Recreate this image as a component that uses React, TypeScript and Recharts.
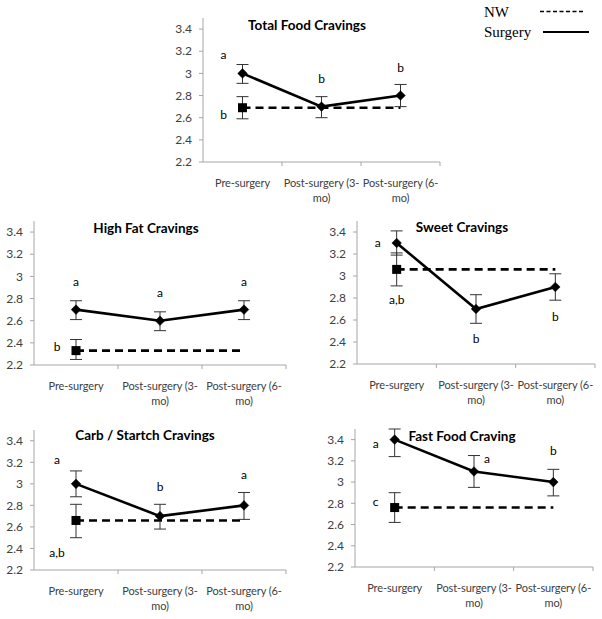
import React from 'react';
import { LineChart, Line, XAxis, YAxis, ErrorBar, ReferenceDot } from 'recharts';

// ---------- shared axis data ----------
const categories = ['Pre-surgery', 'Post-surgery (3-mo)', 'Post-surgery (6-mo)'];
const categoryLines = [['Pre-surgery'], ['Post-surgery (3-', 'mo)'], ['Post-surgery (6-', 'mo)']];
const yTicks = [2.2, 2.4, 2.6, 2.8, 3, 3.2, 3.4];
const yDomain: [number, number] = [2.2, 3.5];
const legendLabels = ['NW', 'Surgery'];

// ---------- Total Food Cravings ----------
const totalTitle = 'Total Food Cravings';
const totalSurgery = [3.0, 2.7, 2.8];
const totalSurgeryLow = [2.91, 2.6, 2.7];
const totalSurgeryHigh = [3.08, 2.79, 2.9];
const totalNW = 2.69;
const totalNWLow = 2.59;
const totalNWHigh = 2.79;
const totalLetters = [
  { cat: 0, y: 3.17, text: 'a', side: 'left' },
  { cat: 0, y: 2.63, text: 'b', side: 'left' },
  { cat: 1, y: 2.95, text: 'b', side: 'center' },
  { cat: 2, y: 3.05, text: 'b', side: 'center' },
];

// ---------- High Fat Cravings ----------
const fatTitle = 'High Fat Cravings';
const fatSurgery = [2.7, 2.6, 2.7];
const fatSurgeryLow = [2.61, 2.51, 2.61];
const fatSurgeryHigh = [2.78, 2.68, 2.78];
const fatNW = 2.33;
const fatNWLow = 2.25;
const fatNWHigh = 2.43;
const fatLetters = [
  { cat: 0, y: 2.95, text: 'a', side: 'center' },
  { cat: 1, y: 2.85, text: 'a', side: 'center' },
  { cat: 2, y: 2.95, text: 'a', side: 'center' },
  { cat: 0, y: 2.36, text: 'b', side: 'left' },
];

// ---------- Sweet Cravings ----------
const sweetTitle = 'Sweet Cravings';
const sweetSurgery = [3.3, 2.7, 2.9];
const sweetSurgeryLow = [3.19, 2.57, 2.78];
const sweetSurgeryHigh = [3.41, 2.83, 3.02];
const sweetNW = 3.06;
const sweetNWLow = 2.91;
const sweetNWHigh = 3.21;
const sweetLetters = [
  { cat: 0, y: 3.3, text: 'a', side: 'left' },
  { cat: 0, y: 2.78, text: 'a,b', side: 'center' },
  { cat: 1, y: 2.43, text: 'b', side: 'center' },
  { cat: 2, y: 2.63, text: 'b', side: 'center' },
];

// ---------- Carb / Startch Cravings ----------
const carbTitle = 'Carb / Startch Cravings';
const carbSurgery = [3.0, 2.7, 2.8];
const carbSurgeryLow = [2.88, 2.58, 2.67];
const carbSurgeryHigh = [3.12, 2.81, 2.92];
const carbNW = 2.66;
const carbNWLow = 2.5;
const carbNWHigh = 2.81;
const carbLetters = [
  { cat: 0, y: 3.22, text: 'a', side: 'left' },
  { cat: 0, y: 2.36, text: 'a,b', side: 'left' },
  { cat: 1, y: 2.97, text: 'b', side: 'center' },
  { cat: 2, y: 3.08, text: 'a', side: 'center' },
];

// ---------- Fast Food Craving ----------
const fastTitle = 'Fast Food Craving';
const fastSurgery = [3.4, 3.1, 3.0];
const fastSurgeryLow = [3.24, 2.95, 2.87];
const fastSurgeryHigh = [3.5, 3.25, 3.12];
const fastNW = 2.76;
const fastNWLow = 2.62;
const fastNWHigh = 2.9;
const fastLetters = [
  { cat: 0, y: 3.36, text: 'a', side: 'left' },
  { cat: 0, y: 2.81, text: 'c', side: 'left' },
  { cat: 1, y: 3.22, text: 'a', side: 'right' },
  { cat: 2, y: 3.29, text: 'b', side: 'center' },
];

const SANS = 'Lato, "Open Sans", sans-serif';
const AXIS_GRAY = '#a6a6a6';
const TEXT_GRAY = '#404040';

type Letter = { cat: number; y: number; text: string; side: string };
type Box = { left: number; top: number; width: number; height: number };
type Plot = { left: number; top: number; right: number; bottom: number };

const Diamond = (p: any) => {
  const { cx, cy } = p;
  if (cx == null || cy == null) return <g />;
  const r = 4.8;
  return (
    <polygon
      points={`${cx},${cy - r} ${cx + r},${cy} ${cx},${cy + r} ${cx - r},${cy}`}
      fill="#000"
      stroke="#000"
      strokeWidth={0.5}
    />
  );
};

const Square = (p: any) => {
  const { cx, cy, index } = p;
  if (cx == null || cy == null || index !== 0) return <g />;
  const s = 9;
  return <rect x={cx - s / 2} y={cy - s / 2} width={s} height={s} fill="#000" />;
};

function Panel(props: {
  surgery: number[];
  sLow: number[];
  sHigh: number[];
  nw: number;
  nwLow: number;
  nwHigh: number;
  letters: Letter[];
  box: Box;
  plot: Plot;
}) {
  const { surgery, sLow, sHigh, nw, nwLow, nwHigh, letters, box, plot } = props;
  const data = categories.map((c, i) => ({
    cat: c,
    surgery: surgery[i],
    surgeryErr: [surgery[i] - sLow[i], sHigh[i] - surgery[i]],
    nw: nw,
    nwErr: i === 0 ? [nw - nwLow, nwHigh - nw] : undefined,
  }));
  const plotW = plot.right - plot.left;
  const bw = plotW / categories.length;
  const xAxisHeight = box.top + box.height - plot.bottom;
  const margin = {
    top: plot.top - box.top,
    bottom: 0,
    right: box.left + box.width - plot.right,
    left: 0,
  };
  const yAxisWidth = plot.left - box.left;

  const CatTick = (tp: any) => {
    const { x, y, payload } = tp;
    const idx = categories.indexOf(payload.value);
    const lines = categoryLines[idx] || [payload.value];
    return (
      <g>
        <line x1={x + bw / 2} y1={y} x2={x + bw / 2} y2={y + 4} stroke={AXIS_GRAY} strokeWidth={1} />
        {lines.map((ln: string, k: number) => (
          <text
            key={k}
            x={x}
            y={y + 25 + k * 15}
            textAnchor="middle"
            fontSize={11}
            letterSpacing={-0.1}
            fontFamily={SANS}
            fill={TEXT_GRAY}
          >
            {ln}
          </text>
        ))}
      </g>
    );
  };

  const sideOffset = (side: string) => (side === 'left' ? -19 : side === 'right' ? 13 : 0);

  return (
    <div style={{ position: 'absolute', left: box.left, top: box.top, width: box.width, height: box.height }}>
      <LineChart width={box.width} height={box.height} data={data} margin={margin}>
        <XAxis
          dataKey="cat"
          type="category"
          interval={0}
          padding={{ left: bw / 2, right: bw / 2 }}
          tickLine={false}
          tickSize={0}
          tickMargin={0}
          axisLine={{ stroke: AXIS_GRAY, strokeWidth: 1 }}
          tick={<CatTick />}
          height={xAxisHeight}
        />
        <YAxis
          type="number"
          domain={yDomain}
          ticks={yTicks}
          interval={0}
          allowDataOverflow
          width={yAxisWidth}
          tickSize={4}
          tickMargin={7}
          axisLine={{ stroke: AXIS_GRAY, strokeWidth: 1 }}
          tickLine={{ stroke: AXIS_GRAY, strokeWidth: 1 }}
          tick={{ fontSize: 12, fontFamily: SANS, fill: TEXT_GRAY }}
          tickFormatter={(v: number) => String(Number(v.toFixed(1)))}
        />
        <Line
          dataKey="nw"
          stroke="#000"
          strokeWidth={2.6}
          strokeDasharray="8 5"
          dot={<Square />}
          activeDot={false}
          isAnimationActive={false}
        >
          <ErrorBar dataKey="nwErr" width={6} stroke="#333" strokeWidth={1} />
        </Line>
        <Line
          dataKey="surgery"
          stroke="#000"
          strokeWidth={2.6}
          dot={<Diamond />}
          activeDot={false}
          isAnimationActive={false}
        >
          <ErrorBar dataKey="surgeryErr" width={6} stroke="#333" strokeWidth={1} />
        </Line>
        {letters.map((l, k) => (
          <ReferenceDot
            key={k}
            x={categories[l.cat]}
            y={l.y}
            r={0}
            ifOverflow="visible"
            shape={(p: any) => (
              <text
                x={p.cx + sideOffset(l.side)}
                y={p.cy}
                dy="0.35em"
                textAnchor="middle"
                fontSize={12}
                fontFamily={SANS}
                fill="#000"
                stroke="none"
              >
                {l.text}
              </text>
            )}
          />
        ))}
      </LineChart>
    </div>
  );
}

function Title({ text, cx, cy }: { text: string; cx: number; cy: number }) {
  return (
    <div
      style={{
        position: 'absolute',
        left: cx - 100,
        width: 200,
        top: cy - 9,
        height: 18,
        lineHeight: '18px',
        textAlign: 'center',
        fontFamily: SANS,
        fontWeight: 700,
        fontSize: 13.5,
        color: '#000',
        whiteSpace: 'nowrap',
      }}
    >
      {text}
    </div>
  );
}

export default function App() {
  return (
    <div style={{ position: 'absolute', left: 0, top: 0, width: 602, height: 619, background: '#fff', overflow: 'hidden' }}>
      <Panel
        surgery={totalSurgery}
        sLow={totalSurgeryLow}
        sHigh={totalSurgeryHigh}
        nw={totalNW}
        nwLow={totalNWLow}
        nwHigh={totalNWHigh}
        letters={totalLetters}
        box={{ left: 150, top: 0, width: 300, height: 210 }}
        plot={{ left: 203, top: 18, right: 440, bottom: 162 }}
      />
      <Panel
        surgery={fatSurgery}
        sLow={fatSurgeryLow}
        sHigh={fatSurgeryHigh}
        nw={fatNW}
        nwLow={fatNWLow}
        nwHigh={fatNWHigh}
        letters={fatLetters}
        box={{ left: 0, top: 205, width: 300, height: 205 }}
        plot={{ left: 34, top: 221, right: 286, bottom: 365 }}
      />
      <Panel
        surgery={sweetSurgery}
        sLow={sweetSurgeryLow}
        sHigh={sweetSurgeryHigh}
        nw={sweetNW}
        nwLow={sweetNWLow}
        nwHigh={sweetNWHigh}
        letters={sweetLetters}
        box={{ left: 305, top: 205, width: 297, height: 205 }}
        plot={{ left: 357, top: 221, right: 595, bottom: 364 }}
      />
      <Panel
        surgery={carbSurgery}
        sLow={carbSurgeryLow}
        sHigh={carbSurgeryHigh}
        nw={carbNW}
        nwLow={carbNWLow}
        nwHigh={carbNWHigh}
        letters={carbLetters}
        box={{ left: 0, top: 415, width: 300, height: 204 }}
        plot={{ left: 34, top: 430, right: 286, bottom: 570 }}
      />
      <Panel
        surgery={fastSurgery}
        sLow={fastSurgeryLow}
        sHigh={fastSurgeryHigh}
        nw={fastNW}
        nwLow={fastNWLow}
        nwHigh={fastNWHigh}
        letters={fastLetters}
        box={{ left: 305, top: 415, width: 297, height: 204 }}
        plot={{ left: 355, top: 429, right: 593, bottom: 567 }}
      />
      <Title text={totalTitle} cx={307} cy={25} />
      <Title text={fatTitle} cx={146} cy={228} />
      <Title text={sweetTitle} cx={462} cy={227} />
      <Title text={carbTitle} cx={145} cy={435} />
      <Title text={fastTitle} cx={462} cy={436} />
      <svg style={{ position: 'absolute', left: 440, top: 0 }} width={162} height={50}>
        <text x={44} y={17} fontFamily='"Liberation Serif", "Times New Roman", serif' fontSize={15} fill="#000">
          {legendLabels[0]}
        </text>
        <line x1={100} y1={11.5} x2={145} y2={11.5} stroke="#000" strokeWidth={1.3} strokeDasharray="4 2.5" />
        <text x={44} y={37} fontFamily='"Liberation Serif", "Times New Roman", serif' fontSize={15} fill="#000">
          {legendLabels[1]}
        </text>
        <line x1={103} y1={32} x2={149} y2={32} stroke="#000" strokeWidth={2} />
      </svg>
    </div>
  );
}
